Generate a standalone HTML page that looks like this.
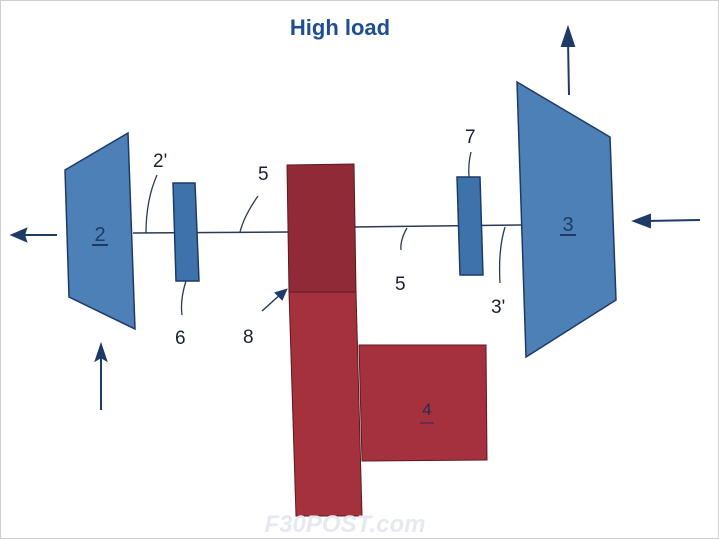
<!DOCTYPE html>
<html><head><style>
html,body{margin:0;padding:0;background:#fff;}
svg{display:block;}
</style></head><body>
<svg width="719" height="539" viewBox="0 0 719 539" xmlns="http://www.w3.org/2000/svg">
<rect x="0.5" y="0.5" width="718" height="538" fill="#fff" stroke="#cfcfcf"/>
<text x="340" y="35" text-anchor="middle" font-family="Liberation Sans, sans-serif" font-weight="bold" font-size="22" fill="#1f4f8f">High load</text>
<line x1="133" y1="233" x2="290" y2="232" stroke="#2a3a55" stroke-width="1.5"/>
<line x1="354" y1="227" x2="522" y2="225" stroke="#2a3a55" stroke-width="1.5"/>
<polygon points="65,170 128,133 135,329 69,297" fill="#4d80b6" stroke="#1e3a66" stroke-width="1.5"/>
<text x="100" y="241" text-anchor="middle" font-family="Liberation Sans, sans-serif" font-size="20" fill="#1e3a66">2</text>
<line x1="92" y1="245" x2="108" y2="245" stroke="#1e3a66" stroke-width="2"/>
<polygon points="173,183 195,183 199,281 176,281" fill="#3e72aa" stroke="#1e3a66" stroke-width="1.5"/>
<polygon points="287,165 354,164 356,292 289,292" fill="#8f2a36" stroke="#5a1a22" stroke-width="1"/>
<polygon points="289,292 356,292 362,516 296,516" fill="#a5313d" stroke="#5a1a22" stroke-width="1"/>
<polygon points="359,345 486,345 487,460 362,461" fill="#a5313d" stroke="#5a1a22" stroke-width="1"/>
<text x="427" y="415" text-anchor="middle" font-family="Liberation Sans, sans-serif" font-size="17" fill="#2a2a55">4</text>
<line x1="420" y1="423" x2="434" y2="423" stroke="#2a2a55" stroke-width="1"/>
<polygon points="457,177 480,177 483,275 460,275" fill="#3e72aa" stroke="#1e3a66" stroke-width="1.5"/>
<polygon points="517,82 610,137 616,300 526,357" fill="#4d80b6" stroke="#1e3a66" stroke-width="1.5"/>
<text x="568" y="231" text-anchor="middle" font-family="Liberation Sans, sans-serif" font-size="20" fill="#1e3a66">3</text>
<line x1="560" y1="235" x2="576" y2="235" stroke="#1e3a66" stroke-width="2"/>
<g stroke="#1e3a66" stroke-width="2" fill="#1e3a66">
<line x1="57" y1="235" x2="20" y2="235"/><polygon points="12,235 26,229 24,235 26,241"/>
<line x1="101" y1="410" x2="101" y2="355"/><polygon points="101,345 96,360 101,357 106,360"/>
<line x1="569" y1="95" x2="568" y2="40"/><polygon points="568,28 562,46 574,46"/>
<line x1="700" y1="220" x2="645" y2="221"/><polygon points="634,221 650,215 650,227"/>
<line x1="262" y1="311" x2="282" y2="293" stroke-width="1.5"/><polygon points="286,290 276,293 282,299"/>
</g>
<g stroke="#2a3a55" stroke-width="1.3" fill="none">
<path d="M146,233 Q146,200 157,175"/>
<path d="M240,232 Q244,216 258,196"/>
<path d="M186,281 Q180,300 182,315"/>
<path d="M407,228 Q400,240 401,250"/>
<path d="M469,177 Q468,164 471,152"/>
<path d="M505,227 Q498,250 500,283"/>
</g>
<g font-family="Liberation Sans, sans-serif" font-size="19" fill="#1a2030">
<text x="153" y="167">2'</text>
<text x="258" y="180">5</text>
<text x="175" y="344">6</text>
<text x="243" y="343">8</text>
<text x="395" y="290">5</text>
<text x="465" y="143">7</text>
<text x="491" y="313">3'</text>
</g>
<text x="345" y="532" text-anchor="middle" font-family="Liberation Sans, sans-serif" font-weight="bold" font-style="italic" font-size="24" fill="#e6e9ef">F30POST.com</text>
</svg>
</body></html>
